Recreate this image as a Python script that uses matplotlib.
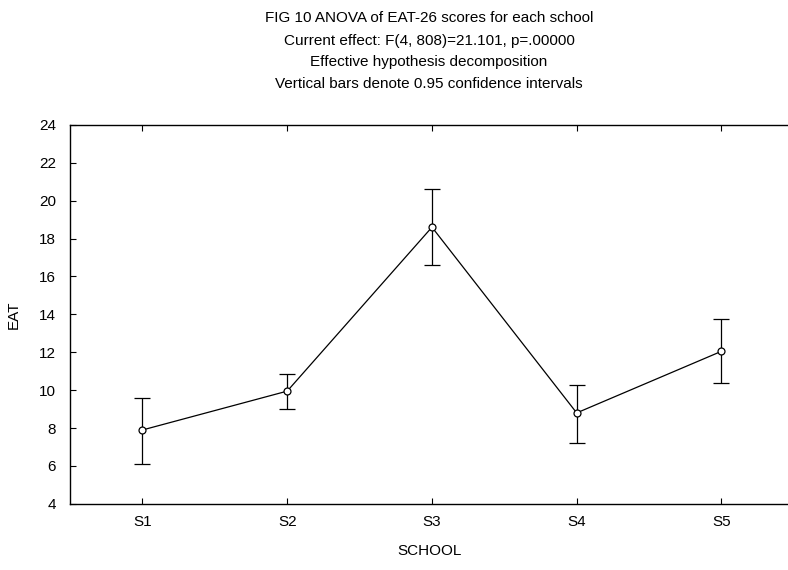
import matplotlib.pyplot as plt

plt.rcParams['font.family'] = ['Liberation Sans', 'DejaVu Sans']

schools = ['S1', 'S2', 'S3', 'S4', 'S5']
eat_mean = [7.9, 9.95, 18.6, 8.8, 12.05]
ci_low = [6.1, 9.0, 16.6, 7.2, 10.4]
ci_high = [9.6, 10.85, 20.6, 10.25, 13.75]

x = list(range(1, len(schools) + 1))
err_lo = [m - lo for m, lo in zip(eat_mean, ci_low)]
err_hi = [hi - m for m, hi in zip(eat_mean, ci_high)]

fig = plt.figure(figsize=(7.88, 5.70), dpi=100)
ax = fig.add_axes([0.089, 0.116, 0.911, 0.665])

ax.errorbar(x, eat_mean, yerr=[err_lo, err_hi], color='black', lw=0.9,
            elinewidth=0.9, capsize=5.5, capthick=0.9, marker='o',
            markersize=5, markerfacecolor='white', markeredgecolor='black',
            markeredgewidth=0.9)

ax.set_xlim(0.5, 5.46)
ax.set_ylim(4, 24)
ax.set_yticks(range(4, 25, 2))
ax.set_xticks(x)
ax.set_xticklabels(schools)
ax.tick_params(direction='in', length=4, width=0.8, labelsize=11, colors='black')
ax.tick_params(axis='x', top=True, pad=8)
ax.tick_params(axis='y', pad=10)
ax.spines['right'].set_visible(False)
for s in ['left', 'top', 'bottom']:
    ax.spines[s].set_linewidth(1.0)

ax.set_xlabel('SCHOOL', fontsize=11, labelpad=11)
ax.set_ylabel('EAT', fontsize=11, labelpad=13)

title_lines = ['FIG 10 ANOVA of EAT-26 scores for each school',
               'Current effect: F(4, 808)=21.101, p=.00000',
               'Effective hypothesis decomposition',
               'Vertical bars denote 0.95 confidence intervals']
ty = [18, 41, 62, 84]
for t, yy in zip(title_lines, ty):
    fig.text(429 / 788, 1 - yy / 570, t, ha='center', va='center', fontsize=11)

fig.savefig('out.png', dpi=100)
